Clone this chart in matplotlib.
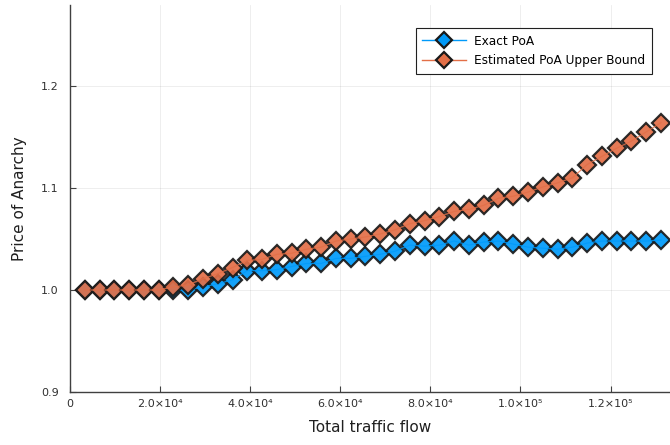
import numpy as np
import matplotlib
matplotlib.use("Agg")
import matplotlib.pyplot as plt

# ---------------------------------------------------------------------------
# Data
# ---------------------------------------------------------------------------
flow = np.arange(1, 41) * 3280.0

exact_poa = [
    1.000, 1.000, 1.000, 1.000, 1.000, 1.000, 1.000, 1.000, 1.003, 1.006,
    1.010, 1.019, 1.019, 1.020, 1.023, 1.026, 1.026, 1.031, 1.031, 1.033,
    1.035, 1.038, 1.044, 1.043, 1.044, 1.048, 1.044, 1.047, 1.048, 1.045,
    1.042, 1.041, 1.040, 1.042, 1.046, 1.048, 1.048, 1.048, 1.048, 1.049,
]

estimated_poa = [
    1.000, 1.000, 1.000, 1.000, 1.000, 1.000, 1.003, 1.005, 1.011, 1.016,
    1.022, 1.029, 1.030, 1.035, 1.036, 1.040, 1.042, 1.048, 1.050, 1.052,
    1.055, 1.059, 1.065, 1.068, 1.072, 1.077, 1.079, 1.083, 1.090, 1.092,
    1.096, 1.101, 1.105, 1.110, 1.123, 1.131, 1.139, 1.146, 1.155, 1.164,
]

series_labels = ["Exact PoA", "Estimated PoA Upper Bound"]
series_colors = ["#009AFA", "#E36F47"]

x_ticks = [0, 2e4, 4e4, 6e4, 8e4, 1e5, 1.2e5]
x_tick_labels = ["0", "2.0×10⁴", "4.0×10⁴", "6.0×10⁴", "8.0×10⁴",
                 "1.0×10⁵", "1.2×10⁵"]
y_ticks = [0.9, 1.0, 1.1, 1.2]

# ---------------------------------------------------------------------------
# Figure
# ---------------------------------------------------------------------------
plt.rcParams["font.family"] = ["DejaVu Sans"]

fig = plt.figure(figsize=(6.7, 4.45), dpi=100)
ax = fig.add_axes([70 / 670, 1 - 392 / 445, 600 / 670, 387 / 445])

for ys, lab, col in zip([exact_poa, estimated_poa], series_labels, series_colors):
    # markers first, then a thin line on top (GR-style look)
    ax.plot(flow, ys, ls="none", marker="D", markersize=9.5,
            markerfacecolor=col, markeredgecolor="#1a1a1a",
            markeredgewidth=1.6, alpha=0.92)
    ax.plot(flow, ys, color=col, lw=0.9, alpha=0.8)

# legend proxies
for lab, col in zip(series_labels, series_colors):
    ax.plot([], [], color=col, lw=1.0, marker="D", markersize=8.5,
            markerfacecolor=col, markeredgecolor="#1a1a1a",
            markeredgewidth=1.6, label=lab)

ax.set_xlim(0, 1.332e5)
ax.set_ylim(0.9, 1.2794)
ax.set_xticks(x_ticks)
ax.set_xticklabels(x_tick_labels)
ax.set_yticks(y_ticks)
ax.set_yticklabels([f"{v:.1f}" for v in y_ticks])

ax.grid(True, color="black", alpha=0.08, lw=0.6)
ax.set_axisbelow(True)
for side in ["top", "right"]:
    ax.spines[side].set_visible(False)
for side in ["left", "bottom"]:
    ax.spines[side].set_color("#404040")
    ax.spines[side].set_linewidth(1.0)

ax.tick_params(direction="in", length=4, width=0.8, colors="#404040",
               labelsize=8, labelcolor="#303030")
ax.tick_params(axis="y", pad=8)
ax.tick_params(axis="x", pad=5)

ax.set_xlabel("Total traffic flow", fontsize=11, color="#202020", labelpad=8)
ax.set_ylabel("Price of Anarchy", fontsize=11, color="#202020", labelpad=10)

leg = ax.legend(loc="upper right", bbox_to_anchor=(658 / 670, 1 - 22 / 445),
                bbox_transform=fig.transFigure, fontsize=8.7, frameon=True,
                fancybox=False, framealpha=1.0, edgecolor="#202020",
                handlelength=3.6, handletextpad=0.7, borderpad=0.55,
                labelspacing=0.55)
leg.get_frame().set_linewidth(0.8)

fig.savefig("out.png", dpi=100)
